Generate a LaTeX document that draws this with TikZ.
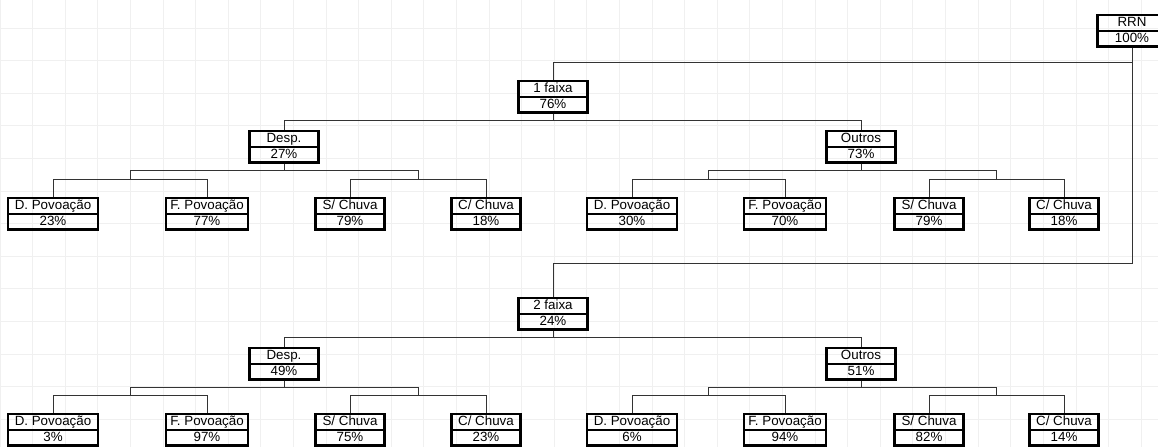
\documentclass[tikz,border=0pt]{standalone}
\usepackage{fontspec}
\setmainfont{Liberation Sans}
\usetikzlibrary{shapes.multipart}

% strut giving each row of a box the same height
\newcommand{\rowstrut}{\rule[-0.10cm]{0pt}{0.40cm}}

\begin{document}
\begin{tikzpicture}[
        x=0.03cm, y=-0.03cm,
        every node/.style={font=\fontsize{11.4}{13}\selectfont},
        catbox/.style={draw, rectangle split, rectangle split parts=2, line width=2pt, minimum width=2.07cm, inner xsep=0pt, inner ysep=0pt, anchor=north},
        dpbox/.style={catbox, minimum width=2.7cm},
        fpbox/.style={catbox, minimum width=2.46cm},
        treeline/.style={-, line width=0.8pt, black!80},
        gridline/.style={black!6, line width=0.6pt}
    ]
        \useasboundingbox (0,0) rectangle (1158,446);

        % Background grid
        \draw[gridline, step=0.978cm, yshift=0.138cm] (0,-20) grid (1180,470);

        % Root
        \node[catbox] (rrn) at (1132,14) {\rowstrut RRN \nodepart{two}\rowstrut 100\%};

        % First level - faixas
        \node[catbox] (f1) at (553,80) {\rowstrut 1 faixa \nodepart{two}\rowstrut 76\%};
        \node[catbox] (f2) at (553,297) {\rowstrut 2 faixa \nodepart{two}\rowstrut 24\%};

        % Second level - Desp. / Outros
        \node[catbox] (desp1) at (284,130) {\rowstrut Desp. \nodepart{two}\rowstrut 27\%};
        \node[catbox] (out1) at (861,130) {\rowstrut Outros \nodepart{two}\rowstrut 73\%};
        \node[catbox] (desp2) at (284,347) {\rowstrut Desp. \nodepart{two}\rowstrut 49\%};
        \node[catbox] (out2) at (861,347) {\rowstrut Outros \nodepart{two}\rowstrut 51\%};

        % Leaves - 1 faixa
        \node[dpbox] (d1dp) at (53,197) {\rowstrut D. Povoação \nodepart{two}\rowstrut 23\%};
        \node[fpbox] (d1fp) at (207,197) {\rowstrut F. Povoação \nodepart{two}\rowstrut 77\%};
        \node[catbox] (d1sc) at (350,197) {\rowstrut S/ Chuva \nodepart{two}\rowstrut 79\%};
        \node[catbox] (d1cc) at (486,197) {\rowstrut C/ Chuva \nodepart{two}\rowstrut 18\%};
        \node[dpbox] (o1dp) at (632,197) {\rowstrut D. Povoação \nodepart{two}\rowstrut 30\%};
        \node[fpbox] (o1fp) at (785,197) {\rowstrut F. Povoação \nodepart{two}\rowstrut 70\%};
        \node[catbox] (o1sc) at (929,197) {\rowstrut S/ Chuva \nodepart{two}\rowstrut 79\%};
        \node[catbox] (o1cc) at (1064,197) {\rowstrut C/ Chuva \nodepart{two}\rowstrut 18\%};

        % Leaves - 2 faixa
        \node[dpbox] (d2dp) at (53,413) {\rowstrut D. Povoação \nodepart{two}\rowstrut 3\%};
        \node[fpbox] (d2fp) at (207,413) {\rowstrut F. Povoação \nodepart{two}\rowstrut 97\%};
        \node[catbox] (d2sc) at (350,413) {\rowstrut S/ Chuva \nodepart{two}\rowstrut 75\%};
        \node[catbox] (d2cc) at (486,413) {\rowstrut C/ Chuva \nodepart{two}\rowstrut 23\%};
        \node[dpbox] (o2dp) at (632,413) {\rowstrut D. Povoação \nodepart{two}\rowstrut 6\%};
        \node[fpbox] (o2fp) at (785,413) {\rowstrut F. Povoação \nodepart{two}\rowstrut 94\%};
        \node[catbox] (o2sc) at (929,413) {\rowstrut S/ Chuva \nodepart{two}\rowstrut 82\%};
        \node[catbox] (o2cc) at (1064,413) {\rowstrut C/ Chuva \nodepart{two}\rowstrut 14\%};

        % Junctions
        \coordinate (j1a) at (130,179);
        \coordinate (j1b) at (418,179);
        \coordinate (j1c) at (708,179);
        \coordinate (j1d) at (996,179);
        \coordinate (j2a) at (130,395);
        \coordinate (j2b) at (418,395);
        \coordinate (j2c) at (708,395);
        \coordinate (j2d) at (996,395);

        % Tree edges
        \draw[treeline] (rrn.south) -- ++(0,15) -| (f1.north);
        \draw[treeline] (rrn.south) -- ++(0,216) -| (f2.north);

        \draw[treeline] (f1.south) -- ++(0,7) -| (desp1.north);
        \draw[treeline] (f1.south) -- ++(0,7) -| (out1.north);
        \draw[treeline] (f2.south) -- ++(0,7) -| (desp2.north);
        \draw[treeline] (f2.south) -- ++(0,7) -| (out2.north);

        \draw[treeline] (desp1.south) -- ++(0,7) -| (j1a);
        \draw[treeline] (desp1.south) -- ++(0,7) -| (j1b);
        \draw[treeline] (out1.south) -- ++(0,7) -| (j1c);
        \draw[treeline] (out1.south) -- ++(0,7) -| (j1d);
        \draw[treeline] (desp2.south) -- ++(0,7) -| (j2a);
        \draw[treeline] (desp2.south) -- ++(0,7) -| (j2b);
        \draw[treeline] (out2.south) -- ++(0,7) -| (j2c);
        \draw[treeline] (out2.south) -- ++(0,7) -| (j2d);

        \draw[treeline] (j1a) -| (d1dp.north);
        \draw[treeline] (j1a) -| (d1fp.north);
        \draw[treeline] (j1b) -| (d1sc.north);
        \draw[treeline] (j1b) -| (d1cc.north);
        \draw[treeline] (j1c) -| (o1dp.north);
        \draw[treeline] (j1c) -| (o1fp.north);
        \draw[treeline] (j1d) -| (o1sc.north);
        \draw[treeline] (j1d) -| (o1cc.north);

        \draw[treeline] (j2a) -| (d2dp.north);
        \draw[treeline] (j2a) -| (d2fp.north);
        \draw[treeline] (j2b) -| (d2sc.north);
        \draw[treeline] (j2b) -| (d2cc.north);
        \draw[treeline] (j2c) -| (o2dp.north);
        \draw[treeline] (j2c) -| (o2fp.north);
        \draw[treeline] (j2d) -| (o2sc.north);
        \draw[treeline] (j2d) -| (o2cc.north);

    \end{tikzpicture}
\end{document}
